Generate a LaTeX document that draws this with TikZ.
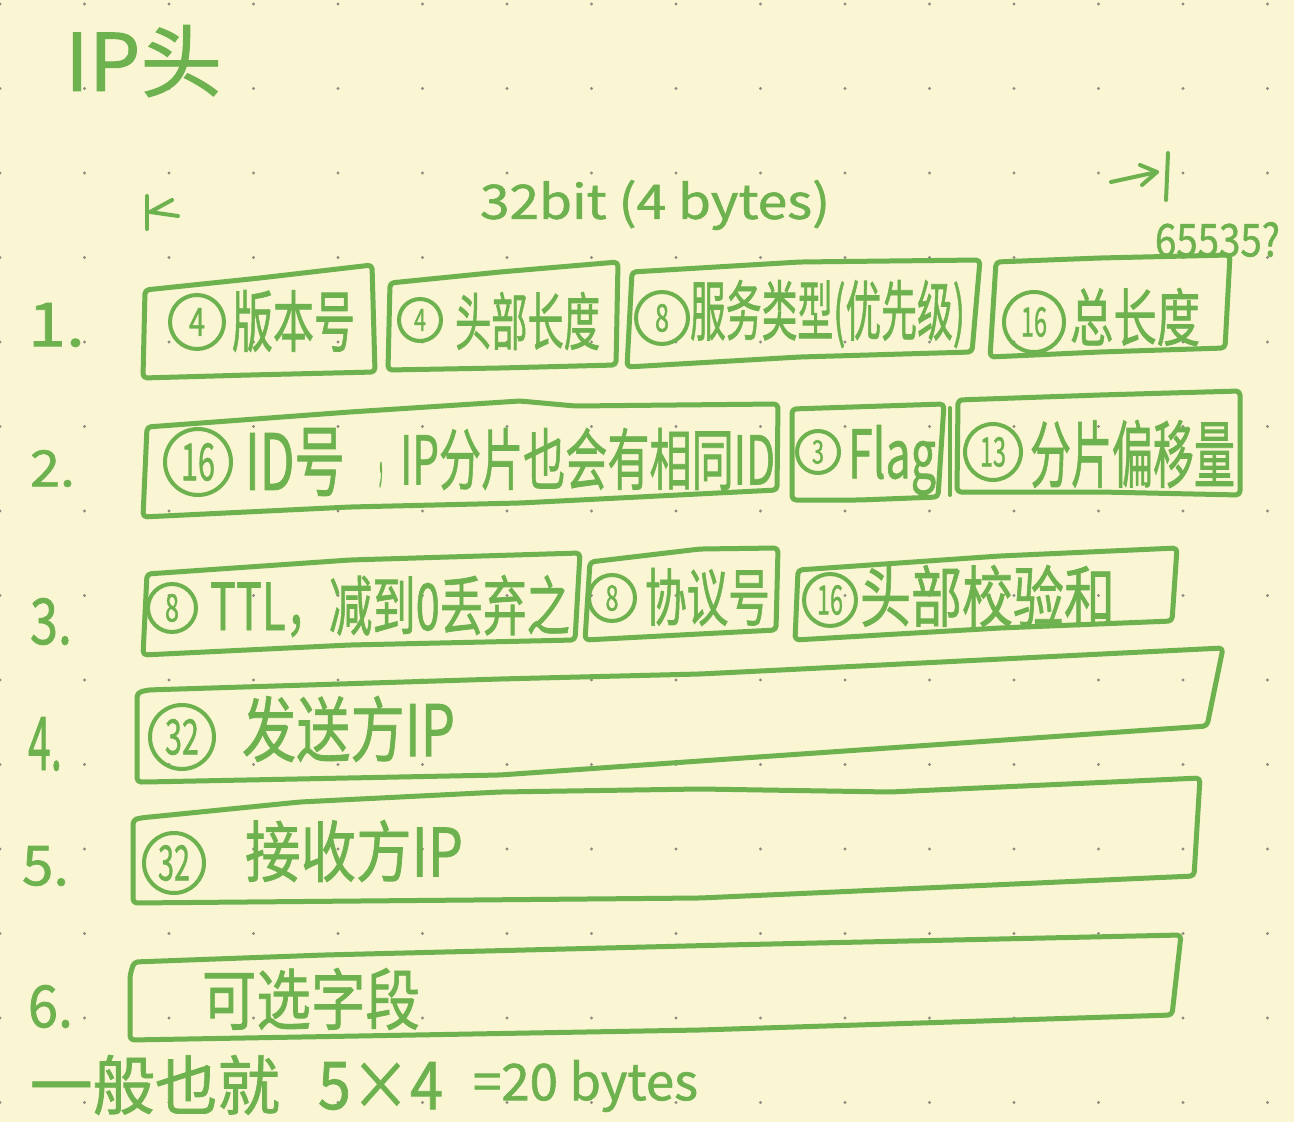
\documentclass[tikz,border=0pt]{standalone}
\usepackage{fontspec}
\newfontfamily\cjk[FakeBold=1.2]{Noto Sans CJK SC}
\newlength\pxu \setlength\pxu{0.5pt}
\newcommand\fitbox[3]{\resizebox*{#1\pxu}{#2\pxu}{#3}}
\definecolor{paper}{HTML}{FAF5D2}
\definecolor{ink}{HTML}{6DB24F}
\definecolor{dotc}{HTML}{8E8B80}
\tikzset{
  hand/.style={draw=ink, line width=2.5pt, line cap=round, line join=round, rounded corners=2pt},
  thin hand/.style={draw=ink, line width=2pt, line cap=round, line join=round},
  txt/.style={inner sep=0pt, outer sep=0pt, text=ink, font=\cjk, anchor=north west},
  num/.style={circle, draw=ink, line width=2pt, inner sep=0pt, text=ink, font=\cjk},
}
\begin{document}
\begin{tikzpicture}[x=0.5pt,y=-0.5pt]
\fill[paper] (0,0) rectangle (1294,1122);
\useasboundingbox (0,0) rectangle (1294,1122);
% dot grid
\foreach \i in {0,...,15} \foreach \j in {0,...,13}
  \fill[dotc] ({84.5*\i},{4+84.5*\j}) circle (0.8pt);

% title and header
\node[txt] (title) at (65,25) {\fitbox{157}{72}{IP头}};
\node[txt] (width) at (480,180) {\fitbox{350}{50}{32bit (4 bytes)}};
\node[txt] (max) at (1155,222) {\fitbox{125}{35}{65535?}};
% left marker
\coordinate (lbt) at (147,196); \coordinate (lbb) at (147,229);
\coordinate (lu) at (172,200); \coordinate (lm) at (150,212); \coordinate (ld) at (178,216);
\draw[thin hand] (lbt) -- (lbb);
\draw[thin hand] (lu) -- (lm) -- (ld);
% right marker
\coordinate (rs) at (1111,182); \coordinate (rt) at (1157,172);
\coordinate (rh1) at (1140,165); \coordinate (rh2) at (1142,185);
\coordinate (rbt) at (1168,153); \coordinate (rbb) at (1166,200);
\draw[thin hand] (rs) -- (rt);
\draw[thin hand] (rh1) -- (rt) -- (rh2);
\draw[thin hand] (rbt) -- (rbb);

% row labels
\node[txt] (l1) at (28,303) {\fitbox{57}{44}{1.}};
\node[txt] (l2) at (30,450) {\fitbox{45}{37}{2.}};
\node[txt] (l3) at (30,598) {\fitbox{42}{47}{3.}};
\node[txt] (l4) at (28,717) {\fitbox{34}{54}{4.}};
\node[txt] (l5) at (22,846) {\fitbox{47}{40}{5.}};
\node[txt] (l6) at (28,985) {\fitbox{45}{43}{6.}};

% ---- row 1 boxes
\draw[hand] (145,290) -- (260,278) -- (372,265) -- (375,372) -- (250,375) -- (143,378) -- cycle;
\draw[hand] (390,283) -- (500,272) -- (618,262) -- (616,365) -- (500,368) -- (388,370) -- cycle;
\draw[hand] (632,272) -- (800,262) -- (980,260) -- (972,352) -- (800,357) -- (627,367) -- cycle;
\draw[hand] (996,262) -- (1100,258) -- (1230,255) -- (1225,348) -- (1100,352) -- (990,357) -- cycle;
% row 1 texts
\node[num, minimum size=27pt] (c1a) at (197,322) {\fitbox{16}{28}{4}};
\node[txt] (t1a) at (232,290) {\fitbox{123}{62}{版本号}};
\node[num, minimum size=21pt] (c1b) at (420,320) {\fitbox{12}{22}{4}};
\node[txt] (t1b) at (455,292) {\fitbox{145}{58}{头部长度}};
\node[num, minimum size=26pt] (c1c) at (662,318) {\fitbox{14}{28}{8}};
\node[txt] (t1c) at (690,280) {\fitbox{275}{68}{服务类型(优先级)}};
\node[num, minimum size=30pt] (c1d) at (1034,322) {\fitbox{26}{30}{16}};
\node[txt] (t1d) at (1070,288) {\fitbox{130}{58}{总长度}};

% ---- row 2 boxes
\draw[hand] (147,427) -- (350,412) -- (520,401) -- (575,406) -- (778,404) -- (777,490) -- (520,503) -- (350,507) -- (143,517) -- cycle;
\draw[hand] (792,409) -- (944,404) -- (938,497) -- (860,500) -- (792,500) -- cycle;
\draw[hand] (958,400) -- (1100,395) -- (1240,391) -- (1240,495) -- (1100,492) -- (957,492) -- cycle;
\draw[thin hand] (950,408) -- (950,495);
% row 2 texts
\node[num, minimum size=33pt] (c2a) at (198,462) {\fitbox{34}{38}{16}};
\node[txt] (t2a1) at (245,428) {\fitbox{100}{68}{ID号}};
\node[txt] (t2a2) at (378,462) {\fitbox{12}{26}{，}};
\node[txt] (t2a3) at (400,428) {\fitbox{375}{62}{IP分片也会有相同ID}};
\node[num, minimum size=21pt] (c2b) at (818,452) {\fitbox{12}{24}{3}};
\node[txt] (t2b) at (848,425) {\fitbox{88}{70}{Flag}};
\node[num, minimum size=28pt] (c2c) at (993,452) {\fitbox{26}{30}{13}};
\node[txt] (t2c) at (1030,420) {\fitbox{205}{68}{分片偏移量}};

% ---- row 3 boxes
\draw[hand] (147,574) -- (350,560) -- (580,553) -- (575,640) -- (350,645) -- (143,655) -- cycle;
\draw[hand] (590,562) -- (700,549) -- (778,548) -- (776,630) -- (680,635) -- (585,640) -- cycle;
\draw[hand] (798,570) -- (1000,556) -- (1177,548) -- (1172,621) -- (1000,628) -- (795,640) -- cycle;
% row 3 texts
\node[num, minimum size=24pt] (c3a) at (172,608) {\fitbox{14}{28}{8}};
\node[txt] (t3a) at (210,575) {\fitbox{360}{62}{TTL，减到0丢弃之}};
\node[num, minimum size=23pt] (c3b) at (612,598) {\fitbox{13}{26}{8}};
\node[txt] (t3b) at (645,568) {\fitbox{125}{58}{协议号}};
\node[num, minimum size=26pt] (c3c) at (830,600) {\fitbox{26}{30}{16}};
\node[txt] (t3c) at (860,565) {\fitbox{255}{62}{头部校验和}};

% ---- row 4
\draw[hand] (147,690) -- (500,679) -- (700,674) -- (1223,648) -- (1207,726) -- (700,761) -- (500,775) -- (145,782) -- (137,782) -- (137,693) -- cycle;
\node[num, minimum size=32pt] (c4) at (182,737) {\fitbox{34}{36}{32}};
\node[txt] (t4) at (242,696) {\fitbox{213}{66}{发送方IP}};

% ---- row 5
\draw[hand] (140,818) -- (300,802) -- (500,792) -- (700,789) -- (890,792) -- (1200,778) -- (1194,876) -- (700,898) -- (133,903) -- (133,820) -- cycle;
\node[num, minimum size=30pt] (c5) at (174,863) {\fitbox{32}{36}{32}};
\node[txt] (t5) at (245,820) {\fitbox{218}{62}{接收方IP}};

% ---- row 6
\draw[hand] (134,962) -- (324,955) -- (726,945) -- (1181,935) -- (1172,1015) -- (700,1030) -- (130,1040) -- (130,975) -- cycle;
\node[txt] (t6) at (202,968) {\fitbox{218}{62}{可选字段}};

% footer
\node[txt] (f1) at (30,1055) {\fitbox{250}{60}{一般也就}};
\node[txt] (f2) at (318,1062) {\fitbox{125}{48}{5×4}};
\node[txt] (f3) at (473,1060) {\fitbox{225}{52}{=20 bytes}};
\end{tikzpicture}
\end{document}
